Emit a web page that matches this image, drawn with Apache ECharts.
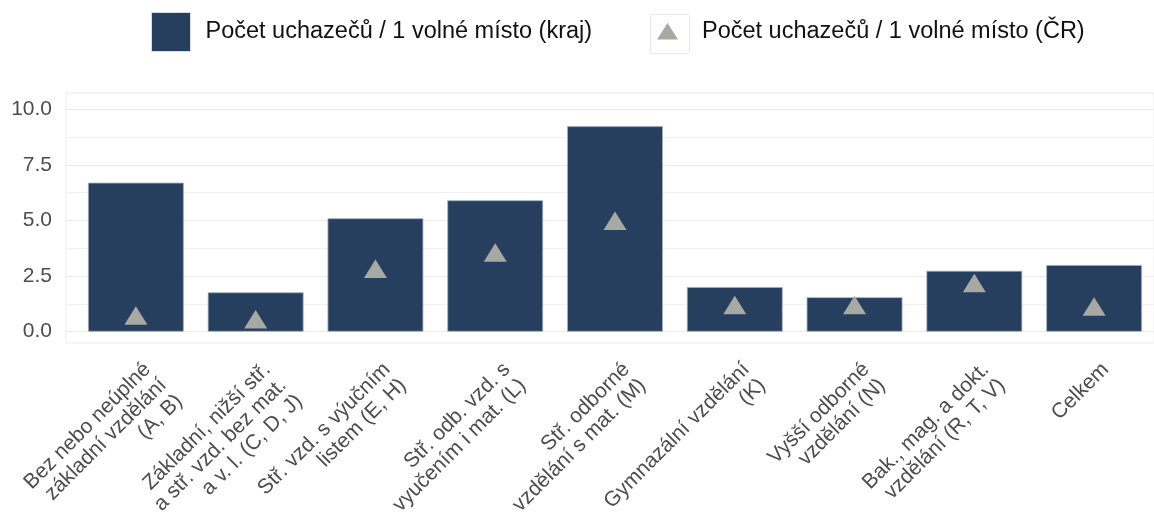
<!DOCTYPE html>
<html>
<head>
  <meta charset="utf-8">
  <title>Uchazeči na 1 volné místo</title>
  <script src="https://cdn.jsdelivr.net/npm/echarts@6/dist/echarts.min.js"></script>
  <style>
    html, body { margin: 0; padding: 0; background: #fff; }
  </style>
</head>
<body>
  <div id="main" style="width: 1154px;height:516px;"></div>
  <script type="text/javascript">
    // data
    var categories = [
      'Bez nebo neúplné\nzákladní vzdělání\n(A, B)',
      'Základní, nižší stř.\na stř. vzd. bez mat.\na v. l. (C, D, J)',
      'Stř. vzd. s výučním\nlistem (E, H)',
      'Stř. odb. vzd. s\nvyučením i mat. (L)',
      'Stř. odborné\nvzdělání s mat. (M)',
      'Gymnazální vzdělání\n(K)',
      'Vyšší odborné\nvzdělání (N)',
      'Bak., mag. a dokt.\nvzdělání (R, T, V)',
      'Celkem'
    ];
    var krajValues = [6.70, 1.77, 5.10, 5.91, 9.24, 2.01, 1.55, 2.74, 3.00];
    var crValues = [0.59, 0.43, 2.69, 3.43, 4.85, 1.07, 1.07, 2.05, 1.00];
    var yTicks = [0, 2.5, 5, 7.5, 10];

    var nameKraj = 'Počet uchazečů / 1 volné místo (kraj)';
    var nameCR = 'Počet uchazečů / 1 volné místo (ČR)';

    var FONT = '"Liberation Sans", Arial, sans-serif';
    var BAR = '#273f5f';
    var TRI = '#a9a9a4';
    var GRID_LINE = '#ebebeb';

    var yMin = yTicks[0];
    var yMax = yTicks[yTicks.length - 1];
    var yStep = yTicks[1] - yTicks[0];

    var myChart = echarts.init(document.getElementById('main'));

    var option = {
      animation: false,
      backgroundColor: '#fff',
      textStyle: { fontFamily: FONT },
      legend: [{
        left: 151, top: 12, padding: 0,
        itemWidth: 49, itemHeight: 39,
        data: [{ name: nameKraj, icon: 'path://M0 0 H39 V39 H0 Z M49 0' }],
        itemStyle: { borderColor: '#d9dde3', borderWidth: 1 },
        textStyle: { fontSize: 23.5, color: '#111', fontFamily: FONT }
      }, {
        left: 648, top: 12, padding: 0,
        itemWidth: 49, itemHeight: 39,
        data: [{ name: nameCR, icon: 'path://M0 0 M49 39 M9 27.5 L19.5 11 L30 27.5 Z' }],
        textStyle: { fontSize: 23.5, color: '#111', fontFamily: FONT }
      }],
      graphic: [{
        type: 'rect', left: 648, top: 12, z: -1,
        shape: { width: 39, height: 39 },
        style: { fill: 'none', stroke: GRID_LINE, lineWidth: 1 }
      }],
      grid: [
        // panel border
        { left: 66, right: 0, top: 93, bottom: 173, outerBoundsMode: 'none', containLabel: false,
          show: true, borderColor: GRID_LINE, borderWidth: 1, backgroundColor: 'transparent' },
        // grid lines + y labels
        { left: 66, right: 0, top: 109.3, bottom: 184.3, outerBoundsMode: 'none', containLabel: false },
        // bars
        { left: 76, right: 0, top: 109.3, bottom: 184.3, outerBoundsMode: 'none', containLabel: false }
      ],
      xAxis: [
        { gridIndex: 0, type: 'value', show: false },
        { gridIndex: 1, type: 'value', show: false },
        {
          gridIndex: 2, type: 'category', data: categories,
          axisLine: { show: false }, axisTick: { show: false },
          axisLabel: {
            interval: 0, rotate: 45, align: 'right', verticalAlign: 'top',
            margin: 23, padding: [5, 0, 0, 0],
            fontSize: 21, lineHeight: 22.5, color: '#4d4d4d', fontFamily: FONT
          }
        }
      ],
      yAxis: [
        { gridIndex: 0, type: 'value', show: false },
        {
          gridIndex: 1, type: 'value', min: yMin, max: yMax, interval: yStep,
          axisLine: { show: false }, axisTick: { show: false },
          axisLabel: {
            margin: 14, fontSize: 21, color: '#4d4d4d', fontFamily: FONT,
            formatter: function (v) { return v.toFixed(1); }
          },
          splitLine: { lineStyle: { color: GRID_LINE, width: 1 } },
          minorTick: { show: false, splitNumber: 2 },
          minorSplitLine: { show: true, lineStyle: { color: '#f0f0f0', width: 1 } }
        },
        { gridIndex: 2, type: 'value', min: yMin, max: yMax, show: false, splitLine: { show: false } }
      ],
      series: [{
        name: nameKraj,
        type: 'bar',
        xAxisIndex: 2, yAxisIndex: 2,
        barWidth: '80%',
        itemStyle: { color: BAR, borderColor: '#a3aebd', borderWidth: 0.8 },
        data: krajValues
      }, {
        name: nameCR,
        type: 'scatter',
        xAxisIndex: 2, yAxisIndex: 2,
        symbol: 'triangle',
        symbolSize: [23, 18.5],
        symbolOffset: [0, -3],
        itemStyle: { color: TRI, opacity: 1 },
        z: 3,
        data: crValues
      }]
    };

    myChart.setOption(option);
  </script>
</body>
</html>
